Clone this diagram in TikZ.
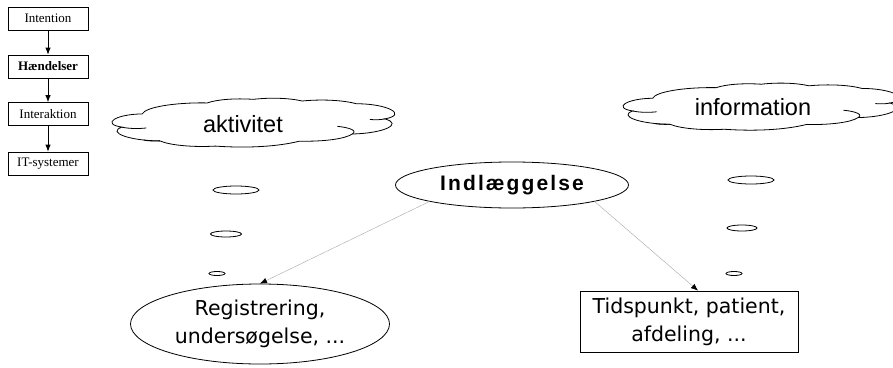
\documentclass[tikz,border=0pt]{standalone}
\usepackage{fontspec}
\setmainfont{Liberation Serif}
\newfontfamily\arialfont{Liberation Sans}
\newfontfamily\spacedfont[LetterSpace=10]{Liberation Sans}
\newfontfamily\verdfont{DejaVu Sans}
\usepackage{tikz}
\usetikzlibrary{shapes,arrows.meta}
\tikzset{lvl/.style={rectangle,draw,minimum width=80pt,minimum height=23pt,inner sep=0pt,font=\fontsize{13}{15}\selectfont}}
\tikzset{cloudtxt/.style={inner sep=0pt,font=\arialfont\fontsize{23.5}{26}\selectfont}}
\tikzset{dot/.style={ellipse,draw,inner sep=0pt}}
\tikzset{big/.style={draw,align=center,inner sep=0pt,font=\verdfont\fontsize{20.5}{28}\selectfont}}
\tikzset{link/.style={->,gray!70,line width=0.4pt}}
\tikzset{cloudpic/.pic={
    \draw (-0.81,-0.33) to[bend left=45] (-0.33,-0.73) to[bend left=40] (0.01,-0.86)
      to[bend left=40] (0.37,-0.8) to[bend left=40] (0.77,-0.7) to[bend left=70] (0.98,-0.15)
      to[bend left=60] (0.74,0.4) to[bend left=40] (0.35,0.66) to[bend left=35] (-0.27,0.84)
      to[bend left=40] (-0.68,0.65) to[bend left=60] (-0.96,0.15) to[bend left=70] (-0.81,-0.33);
    \draw (0.98,-0.15) to[bend left=40] (0.87,-0.13);
    \draw (0.74,0.4) to[bend right=40] (0.63,0.12);
    \draw (-0.96,0.15) to[bend right=40] (-0.78,0.18);
    \draw (-0.68,0.65) to[bend left=30] (-0.8,0.62);
}}

\begin{document}
\begin{tikzpicture}[x=1pt,y=-1pt,line width=0.8pt,>={Latex[length=7pt,width=5.5pt,black]}]
    \useasboundingbox (0,0) rectangle (893,367);
    \node[lvl] (int) at (48,18.5) {Intention};
    \node[lvl,font=\bfseries\fontsize{13}{15}\selectfont] (hae) at (48,66.5) {Hændelser};
    \node[lvl] (iak) at (48,114) {Interaktion};
    \node[lvl] (its) at (48,163.5) {IT-systemer};

    % skyer
    \pic[xscale=135.5,yscale=27.5] at (252,123) {cloudpic};
    \node[cloudtxt] (akt) at (243,124) {aktivitet};
    \pic[xscale=132.5,yscale=26.5] at (760,107) {cloudpic};
    \node[cloudtxt] (inf) at (753,107) {information};

    \node[dot,minimum width=46pt,minimum height=8pt] (a1) at (236,190) {};
    \node[dot,minimum width=31pt,minimum height=6pt] (a2) at (226,234) {};
    \node[dot,minimum width=16pt,minimum height=4pt] (a3) at (217,273.5) {};
    \node[dot,minimum width=46pt,minimum height=8pt] (i1) at (751,180) {};
    \node[dot,minimum width=30pt,minimum height=6pt] (i2) at (742,228) {};
    \node[dot,minimum width=16pt,minimum height=4pt] (i3) at (734,273.5) {};

    \node[ellipse,draw,inner sep=0pt,minimum width=233pt,minimum height=46pt,font=\spacedfont\bfseries\fontsize{21}{24}\selectfont] (ind) at (512,185) {Indlæggelse};
    \node[big,ellipse,minimum width=259pt,minimum height=80pt] (reg) at (260,324) {Registrering,\\undersøgelse, ...};
    \node[big,rectangle,minimum width=218pt,minimum height=61pt] (tid) at (689,321.5) {Tidspunkt, patient,\\afdeling, ...};

    \draw [->] (int) to [] (hae);
    \draw [->] (hae) to [] (iak);
    \draw [->] (iak) to [] (its);
    \draw [link] (ind.south west) to [] (reg.north);
    \draw [link] (ind.south east) to [] ([xshift=9pt]tid.north);
\end{tikzpicture}
\end{document}
